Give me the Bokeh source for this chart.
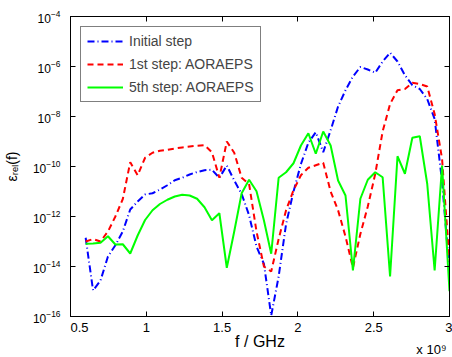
import numpy as np
from bokeh.plotting import figure
from bokeh.models import (FixedTicker, CustomJSTickFormatter, LinearAxis,
                          LogAxis, Range1d, Title)
from bokeh.embed import file_html
from bokeh.resources import INLINE

# frequency samples (x 10^9 Hz)
freq = [0.600, 0.649, 0.698, 0.747, 0.796, 0.845, 0.894, 0.943, 0.992, 1.041,
        1.090, 1.139, 1.188, 1.237, 1.286, 1.335, 1.384, 1.433, 1.482, 1.531,
        1.580, 1.629, 1.678, 1.727, 1.776, 1.824, 1.873, 1.922, 1.971, 2.020,
        2.069, 2.118, 2.167, 2.216, 2.265, 2.314, 2.363, 2.412, 2.461, 2.510,
        2.559, 2.608, 2.657, 2.706, 2.755, 2.804, 2.853, 2.902, 2.951, 3.000]

# log10 of relative error
initial_log10 = [-12.85, -14.96, -14.56, -13.60, -13.15, -12.60, -11.72, -11.40, -11.12, -11.07,
                 -10.92, -10.75, -10.55, -10.45, -10.32, -10.22, -10.15, -10.13, -10.45, -9.96,
                 -10.56, -11.10, -11.95, -13.20, -13.90, -15.96, -14.40, -12.30, -11.00, -9.90,
                 -9.05, -8.63, -9.43, -8.55, -7.60, -6.95, -6.40, -6.02, -6.12, -6.25,
                 -5.80, -5.45, -5.80, -6.35, -6.75, -6.90, -7.30, -8.10, -10.60, -14.20]
first_log10 = [-13.00, -12.90, -13.00, -12.60, -12.00, -11.30, -9.83, -10.35, -9.65, -9.45,
               -9.37, -9.33, -9.28, -9.24, -9.20, -9.17, -9.15, -9.43, -10.45, -9.00,
               -9.45, -10.45, -10.70, -12.60, -14.00, -14.20, -12.90, -11.75, -10.95, -10.35,
               -10.05, -9.95, -9.85, -11.00, -11.75, -12.80, -14.05, -12.70, -11.60, -10.30,
               -8.60, -7.50, -6.95, -6.90, -6.65, -6.70, -6.80, -7.90, -9.70, -13.80]
fifth_log10 = [-13.09, -13.08, -13.05, -12.79, -13.12, -13.11, -13.48, -12.76, -12.14, -11.75,
               -11.50, -11.33, -11.20, -11.13, -11.16, -11.29, -11.63, -12.15, -11.87, -14.05,
               -12.60, -11.07, -10.53, -10.99, -12.16, -13.49, -10.45, -10.23, -9.87, -9.16,
               -8.67, -9.49, -8.60, -9.16, -10.56, -11.16, -14.16, -11.29, -10.53, -10.23,
               -10.43, -14.40, -9.59, -10.29, -8.85, -8.79, -10.69, -14.16, -9.96, -14.99]

series_names = ["Initial step", "1st step: AORAEPS", "5th step: AORAEPS"]
x_ticks = [0.5, 1, 1.5, 2, 2.5, 3]
y_ticks = [1e-16, 1e-14, 1e-12, 1e-10, 1e-8, 1e-6, 1e-4]
x_label = "f / GHz"
y_label = "\u03b5\u1d63\u2091\u2097(f)"
x_multiplier = "x 10\u2079"

FONT = "Liberation Sans"

p = figure(width=452, height=357, y_axis_type="log",
           x_range=Range1d(0.5, 3.0), y_range=Range1d(1e-16, 1e-4),
           output_backend="svg", toolbar_location=None,
           min_border_left=70, min_border_right=3, min_border_top=16, min_border_bottom=41)
p.xgrid.visible = False
p.ygrid.visible = False
p.outline_line_color = "black"
p.outline_line_width = 1
p.background_fill_color = "white"
p.border_fill_color = "white"

def to_vals(lg):
    return [10.0 ** v for v in lg]

r1 = p.line(freq, to_vals(initial_log10), line_color="#0000ff", line_width=2,
            line_dash="7 3 1 3", legend_label=series_names[0])
r2 = p.line(freq, to_vals(first_log10), line_color="#ff0000", line_width=2,
            line_dash="6 4", legend_label=series_names[1])
r3 = p.line(freq, to_vals(fifth_log10), line_color="#00ff00", line_width=2,
            legend_label=series_names[2])

# bottom / left axes
xa = p.xaxis[0]
xa.ticker = FixedTicker(ticks=x_ticks)
# the first label sits right of its tick in the reference: pad it with no-break spaces
xa.formatter = CustomJSTickFormatter(
    code=r"return tick == 0.5 ? '\u00a0\u00a0\u00a0\u00a0\u00a00.5' : tick.toString();")
ya = p.yaxis[0]
ya.ticker = FixedTicker(ticks=y_ticks)
for ax in (xa, ya):
    ax.major_tick_in = 5
    ax.major_tick_out = 0
    ax.minor_tick_line_color = None
    ax.axis_line_color = "black"
    ax.major_tick_line_color = "black"
    ax.major_label_text_font = FONT
    ax.major_label_text_color = "black"
    ax.major_label_text_font_size = "13px"
    ax.axis_label_text_font = FONT
    ax.axis_label_text_font_style = "normal"
    ax.axis_label_text_color = "black"
xa.major_label_standoff = 3
ya.major_label_standoff = 10
ya.major_label_text_font_size = "12px"
xa.axis_label = x_label
xa.axis_label_text_font_size = "16px"
xa.axis_label_standoff = -5
ya.axis_label = y_label
ya.axis_label_text_font_size = "14px"
ya.axis_label_standoff = 10

# mirrored tick marks (top and right)
empty = CustomJSTickFormatter(code="return '';")
top = LinearAxis(ticker=FixedTicker(ticks=x_ticks), formatter=empty,
                 major_tick_in=5, major_tick_out=0, minor_tick_line_color=None,
                 major_label_standoff=0, axis_line_color="black")
right = LogAxis(ticker=FixedTicker(ticks=y_ticks), formatter=empty,
                major_tick_in=5, major_tick_out=0, minor_tick_line_color=None,
                major_label_standoff=0, axis_line_color="black")
p.add_layout(top, "above")
p.add_layout(right, "right")

# "x 10^9" exponent note at the bottom right, outside the frame
# (negative standoff: takes no room of its own and is lifted into the axis band)
mult = Title(text=x_multiplier, align="right", vertical_align="top", offset=3,
             standoff=-22, text_font=FONT, text_font_size="13px",
             text_font_style="normal", text_color="black")
p.add_layout(mult, "below")

lg = p.legend[0]
lg.location = "top_left"
lg.margin = 10
lg.padding = 6
lg.spacing = 7
lg.glyph_width = 36
lg.glyph_height = 16
lg.label_height = 16
lg.label_standoff = 6
lg.label_text_font = FONT
lg.label_text_font_size = "14px"
lg.border_line_color = "black"
lg.border_line_width = 1
lg.background_fill_alpha = 1.0

open("out.html", "w").write(file_html(p, INLINE))
